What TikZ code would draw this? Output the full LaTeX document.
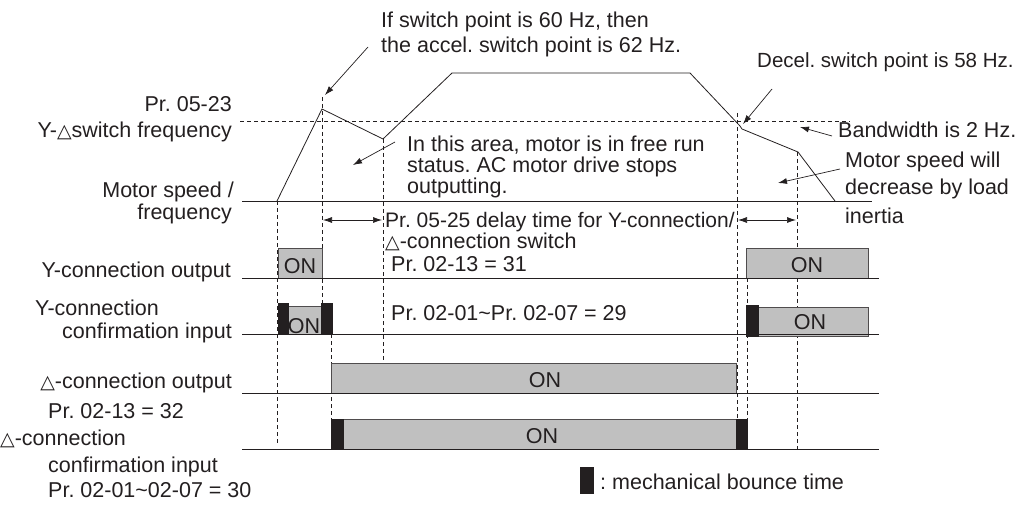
\documentclass[tikz,border=0pt]{standalone}
\usepackage{fontspec}
\setmainfont{Liberation Sans}
\newfontfamily\dejavu{DejaVu Sans}
\usetikzlibrary{arrows.meta}
\frenchspacing
\definecolor{boxgray}{RGB}{192,192,192}
\definecolor{bounce}{RGB}{35,31,32}
\definecolor{ink}{RGB}{35,31,32}
\newcommand{\tri}{{\dejavu\fontsize{19}{19}\selectfont △}}
\tikzset{
  every node/.style={font=\fontsize{21.5}{24}\selectfont, inner sep=0pt, text=ink},
  lbl/.style={anchor=base east},
  lbw/.style={anchor=base west},
  onlbl/.style={anchor=base},
  sig/.style={draw=ink, line width=0.8pt},
  guide/.style={draw=ink, line width=0.8pt, dash pattern=on 4pt off 3pt},
  onbox/.style={fill=boxgray, draw=ink!80, line width=0.8pt},
  bouncebox/.style={fill=bounce, draw=bounce, line width=0.5pt},
  note/.style={draw=ink, line width=0.7pt, -{Latex[length=9pt,width=6pt]}},
  span/.style={draw=ink, line width=0.7pt, {Latex[length=9pt,width=6pt]}-{Latex[length=9pt,width=6pt]}}
}
\begin{document}
\begin{tikzpicture}[x=1pt,y=-1pt]
\useasboundingbox (0,0) rectangle (1033,505);

% guide lines
\draw[guide] (240,121) -- (850,121);
\draw[guide] (277,201) -- (277,443);
\draw[guide] (322,97) -- (322,303);
\draw[guide] (331,334) -- (331,419);
\draw[guide] (383,139) -- (383,360);
\draw[guide] (737,113) -- (737,419);
\draw[guide] (747,278) -- (747,419);
\draw[guide] (797,152) -- (797,449);

% speed curve
\coordinate (c0) at (277,201);
\coordinate (c1) at (322,109);
\coordinate (c2) at (383,139);
\coordinate (c3) at (452,73);
\coordinate (c4) at (690,73);
\coordinate (c5) at (740,126);
\coordinate (c6) at (742,129);
\coordinate (c7) at (798,152);
\coordinate (c8) at (835,201);
\draw[sig] (c0) -- (c1) -- (c2) -- (c3) -- (c4) -- (c5) -- (c6) -- (c7) -- (c8);

% boxes
\draw[onbox] (278,248) rectangle (322,278);
\draw[onbox] (746,248) rectangle (868,278);
\draw[onbox] (288,306) rectangle (321,334);
\draw[bouncebox] (278,303) rectangle (288,334);
\draw[bouncebox] (321,303) rectangle (332,334);
\draw[onbox] (758,307) rectangle (868,336);
\draw[bouncebox] (746,305) rectangle (758,336);
\draw[onbox] (331,363) rectangle (736,393);
\draw[onbox] (343,419) rectangle (736,449);
\draw[bouncebox] (331,419) rectangle (343,449);
\draw[bouncebox] (736,419) rectangle (747,449);

% baselines
\draw[sig] (242,201) -- (872,201);
\draw[sig] (242,278) -- (879,278);
\draw[sig] (242,334) -- (879,334);
\draw[sig] (242,393) -- (879,393);
\draw[sig] (242,449) -- (879,449);

% ON labels
\node[onlbl] (on1) at (300,273) {ON};
\node[onlbl] (on2) at (807,272) {ON};
\node[onlbl] (on3) at (304,333) {ON};
\node[onlbl] (on4) at (810,329) {ON};
\node[onlbl] (on5) at (545,387) {ON};
\node[onlbl] (on6) at (542,443) {ON};

% left labels
\node[lbl] (l1) at (232,112) {Pr. 05-23};
\node[lbl] (l2) at (232,138) {Y-\tri switch frequency};
\node[lbl] (l3) at (234,197) {Motor speed /};
\node[lbl] (l4) at (232,219) {frequency};
\node[lbl] (l5) at (231,277) {Y-connection output};
\node[lbw] (l6) at (35,315) {Y-connection};
\node[lbl] (l7) at (232,338) {confirmation input};
\node[lbl] (l8) at (232,388) {\tri-connection output};
\node[lbw] (l9) at (48,418) {Pr. 02-13 = 32};
\node[lbw] (l10) at (0,445) {\tri-connection};
\node[lbw] (l11) at (48,472) {confirmation input};
\node[lbw] (l12) at (48,497) {Pr. 02-01\textasciitilde 02-07 = 30};

% annotations
\node[lbw] (a1) at (381,28) {If switch point is 60 Hz, then};
\node[lbw] (a2) at (381,53) {the accel. switch point is 62 Hz.};
\node[lbw, font=\fontsize{20.5}{24}\selectfont] (a3) at (757,68) {Decel. switch point is 58 Hz.};
\node[lbw] (a4) at (838,138) {Bandwidth is 2 Hz.};
\node[lbw] (a5) at (845,168) {Motor speed will};
\node[lbw] (a6) at (845,195) {decrease by load};
\node[lbw] (a7) at (845,223) {inertia};
\node[lbw] (a8) at (407,152) {In this area, motor is in free run};
\node[lbw] (a9) at (407,173) {status. AC motor drive stops};
\node[lbw] (a10) at (407,194) {outputting.};
\node[lbw, font=\fontsize{21}{24}\selectfont] (a11) at (385,227) {Pr. 05-25 delay time for Y-connection/};
\node[lbw] (a12) at (385,248) {\tri-connection switch};
\node[lbw] (a13) at (391,271) {Pr. 02-13 = 31};
\node[lbw] (a14) at (391,320) {Pr. 02-01\textasciitilde Pr. 02-07 = 29};
\node[lbw] (a15) at (600,489) {: mechanical bounce time};
\draw[bouncebox] (580,467) rectangle (593,493);

% annotation arrows
\coordinate (p1s) at (368,47);  \coordinate (p1e) at (325,95);
\coordinate (p2s) at (772,89);  \coordinate (p2e) at (743,124);
\coordinate (p3s) at (832,136); \coordinate (p3e) at (800,127);
\coordinate (p4s) at (840,169); \coordinate (p4e) at (778,183);
\coordinate (p5s) at (395,142); \coordinate (p5e) at (353,165);
\draw[note] (p1s) -- (p1e);
\draw[note] (p2s) -- (p2e);
\draw[note] (p3s) -- (p3e);
\draw[note] (p4s) -- (p4e);
\draw[note] (p5s) -- (p5e);

% delay spans
\coordinate (d1a) at (323,220); \coordinate (d1b) at (382,220);
\coordinate (d2a) at (738,220); \coordinate (d2b) at (796,220);
\draw[span] (d1a) -- (d1b);
\draw[span] (d2a) -- (d2b);
\end{tikzpicture}
\end{document}
